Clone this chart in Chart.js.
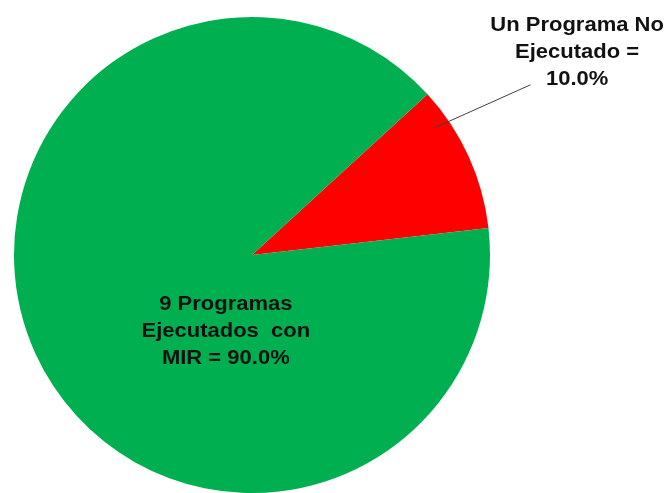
<!DOCTYPE html>
<html>
<head>
<meta charset="utf-8">
<script src="https://cdn.jsdelivr.net/npm/chart.js@4/dist/chart.umd.min.js"></script>
<style>
  html, body { margin: 0; padding: 0; background: #ffffff; }
  #wrap { width: 671px; height: 493px; position: relative; }
</style>
</head>
<body>
<div id="wrap"><canvas id="c" width="671" height="493"></canvas></div>
<script>
// Data
const categories = ["Un Programa No Ejecutado", "9 Programas Ejecutados con MIR"];
const values = [10.0, 90.0];
const sliceColors = ["#FF0000", "#00B050"];
const labelLines = [
  ["Un Programa No", "Ejecutado =", "10.0%"],
  ["9 Programas", "Ejecutados  con", "MIR = 90.0%"]
];

const labelPlugin = {
  id: 'sliceLabels',
  afterDraw(chart) {
    const ctx = chart.ctx;
    const meta = chart.getDatasetMeta(0);
    const arc0 = meta.data[0];
    const cx = arc0.x, cy = arc0.y, r = arc0.outerRadius;
    ctx.save();
    ctx.font = 'bold 20px "Liberation Sans", Arial, sans-serif';
    ctx.fillStyle = '#111111';
    ctx.textAlign = 'center';
    ctx.textBaseline = 'middle';
    const lh = 27;
    // red slice label (outside, with leader line)
    const redArc = meta.data[0];
    const redMid = (redArc.startAngle + redArc.endAngle) / 2;
    const lx = cx + r * 1.366, ly = cy - r * 0.849;
    labelLines[0].forEach((t, i) => {
      ctx.save();
      ctx.translate(lx, ly + (i - 1) * lh);
      ctx.scale(1.1, 1);
      ctx.fillText(t, 0, 0);
      ctx.restore();
    });
    // leader line
    const ax = cx + r * 0.94 * Math.cos(redMid - 0.18);
    const ay = cy + r * 0.94 * Math.sin(redMid - 0.18);
    ctx.strokeStyle = '#404040';
    ctx.lineWidth = 1;
    ctx.beginPath();
    ctx.moveTo(ax, ay);
    ctx.lineTo(cx + r * 1.17, cy - r * 0.715);
    ctx.stroke();
    // green slice label (inside)
    const gx = cx - r * 0.11, gy = cy + r * 0.32;
    labelLines[1].forEach((t, i) => {
      ctx.save();
      ctx.translate(gx, gy + (i - 1) * lh);
      ctx.scale(1.1, 1);
      ctx.fillText(t, 0, 0);
      ctx.restore();
    });
    ctx.restore();
  }
};

new Chart(document.getElementById('c'), {
  type: 'pie',
  data: {
    labels: categories,
    datasets: [{
      data: values,
      backgroundColor: sliceColors,
      borderWidth: 0,
      hoverOffset: 0,
      offset: 0
    }]
  },
  options: {
    responsive: false,
    animation: false,
    rotation: 47.5,
    layout: { padding: { left: 14, right: 181, top: 17, bottom: 0 } },
    plugins: {
      legend: { display: false },
      tooltip: { enabled: false }
    }
  },
  plugins: [labelPlugin]
});
</script>
</body>
</html>
